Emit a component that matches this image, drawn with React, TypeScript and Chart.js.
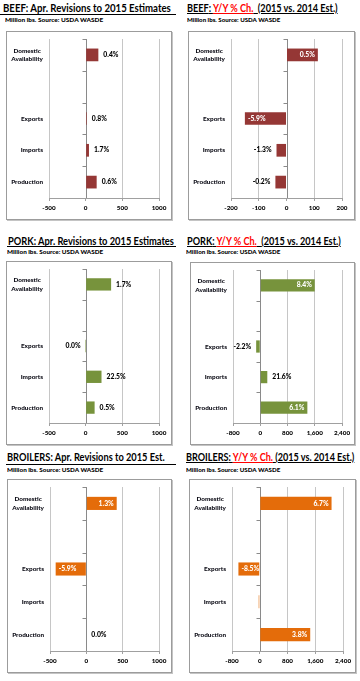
import React, { useEffect, useLayoutEffect, useRef, useState } from 'react';
import { Chart, registerables } from 'chart.js';
Chart.register(...registerables);

// ---------- DATA ----------
const categories: (string | string[])[] = [['Domestic', 'Availability'], '', 'Exports', 'Imports', 'Production'];

const beefAprValues = [173, null, 15, 45, 150];
const beefAprLabels = ['0.4%', null, '0.8%', '1.7%', '0.6%'];
const beefYoyValues = [113, null, -150, -36, -40];
const beefYoyLabels = ['0.5%', null, '-5.9%', '-1.3%', '-0.2%'];

const porkAprValues = [347, null, -0.1, 216, 122];
const porkAprLabels = ['1.7%', null, '0.0%', '22.5%', '0.5%'];
const porkYoyValues = [1600, null, -120, 207, 1383];
const porkYoyLabels = ['8.4%', null, '-2.2%', '21.6%', '6.1%'];

const broilerAprValues = [418, null, -422, 0, 0];
const broilerAprLabels = ['1.3%', null, '-5.9%', null, '0.0%'];
const broilerYoyValues = [2070, null, -615, -30, 1455];
const broilerYoyLabels = ['6.7%', null, '-8.5%', null, '3.8%'];

const aprTicks = [-500, 0, 500, 1000];
const aprTickLabels = ['-500', '0', '500', '1000'];
const beefYoyTicks = [-200, -100, 0, 100, 200];
const beefYoyTickLabels = ['-200', '-100', '0', '100', '200'];
const bigYoyTicks = [-800, 0, 800, 1600, 2400];
const bigYoyTickLabels = ['-800', '0', '800', '1,600', '2,400'];

const subtitleText = 'Million lbs. Source: USDA WASDE';

// ---------- STYLE ----------
const FONT = 'Lato, "Open Sans", sans-serif';
const BEEF = '#953735';
const PORK = '#77933c';
const BROILER = '#e46c0a';

const zeroAxisPlugin = {
  id: 'zeroAxis',
  beforeDatasetsDraw(chart: any) {
    const { ctx, chartArea, scales } = chart;
    const x = scales.x;
    const y = scales.y;
    const x0 = Math.round(x.getPixelForValue(0)) + 0.5;
    ctx.save();
    ctx.strokeStyle = '#8a8a8a';
    ctx.lineWidth = 1;
    ctx.beginPath();
    ctx.moveTo(x0, chartArea.top);
    ctx.lineTo(x0, chartArea.bottom);
    const n = y.ticks.length;
    const band = (chartArea.bottom - chartArea.top) / n;
    for (let i = 0; i < n; i++) {
      const yy = Math.round(chartArea.top + band * i) + 0.5;
      ctx.moveTo(x0 - 4, yy);
      ctx.lineTo(x0, yy);
    }
    ctx.stroke();
    ctx.restore();
  },
};

const catLabelPlugin = {
  id: 'catLabels',
  afterDraw(chart: any) {
    const { ctx, chartArea, scales } = chart;
    const y = scales.y;
    const labels: (string | string[])[] = chart.data.labels;
    ctx.save();
    ctx.font = `900 6.4px ${FONT}`;
    ctx.fillStyle = '#0a0a14';
    ctx.textBaseline = 'middle';
    ctx.textAlign = 'center';
    const lh = 8.3;
    labels.forEach((lab, i) => {
      const lines = Array.isArray(lab) ? lab : [lab];
      if (!lines.join('')) return;
      const yc = y.getPixelForValue(i);
      const maxW = Math.max(...lines.map((l) => ctx.measureText(l).width));
      const right = chartArea.left - 6;
      lines.forEach((l, j) => {
        const yy = yc + (j - (lines.length - 1) / 2) * lh;
        ctx.fillText(l, right - maxW / 2, yy);
      });
    });
    ctx.restore();
  },
};

const labelPlugin = {
  id: 'barLabels',
  afterDatasetsDraw(chart: any, _args: any, opts: any) {
    const { ctx } = chart;
    const meta = chart.getDatasetMeta(0);
    const ds = chart.data.datasets[0];
    const labels: (string | null)[] = opts.labels || [];
    const mode: string = opts.mode || 'outside';
    ctx.save();
    ctx.font = `900 6.8px ${FONT}`;
    ctx.textBaseline = 'middle';
    meta.data.forEach((bar: any, i: number) => {
      const text = labels[i];
      const v = ds.data[i];
      if (!text || v == null) return;
      const { x, base, y } = bar.getProps(['x', 'base', 'y'], true);
      const len = Math.abs(x - base);
      const w = ctx.measureText(text).width;
      const neg = v < 0;
      const inside = mode === 'auto' && len >= w + 3;
      if (inside) {
        ctx.fillStyle = '#ffffff';
        ctx.textAlign = neg ? 'left' : 'right';
        ctx.fillText(text, neg ? x + 3 : x - 3, y);
      } else {
        ctx.fillStyle = '#000000';
        ctx.textAlign = neg ? 'right' : 'left';
        ctx.fillText(text, neg ? x - 5 : x + 5, y);
      }
    });
    ctx.restore();
  },
};

type Box = { x: number; y: number; w: number; h: number };

function BarPanel(props: {
  values: (number | null)[];
  labels: (string | null)[];
  ticks: number[];
  tickLabels: string[];
  color: string;
  mode: 'outside' | 'auto';
  box: Box;
}) {
  const { values, labels, ticks, tickLabels, color, mode, box } = props;
  const ref = useRef<HTMLCanvasElement>(null);
  useEffect(() => {
    const chart = new Chart(ref.current as HTMLCanvasElement, {
      type: 'bar',
      data: {
        labels: categories as any,
        datasets: [
          {
            data: values as any,
            backgroundColor: color,
            barPercentage: 0.4,
            categoryPercentage: 1,
          },
        ],
      },
      options: {
        indexAxis: 'y',
        animation: false,
        responsive: false,
        maintainAspectRatio: false,
        layout: { padding: { top: 7, right: 12, bottom: 0, left: 0 } },
        plugins: {
          legend: { display: false },
          tooltip: { enabled: false },
          barLabels: { labels, mode },
        } as any,
        scales: {
          x: {
            type: 'linear',
            min: ticks[0],
            max: ticks[ticks.length - 1],
            afterBuildTicks: (s: any) => {
              s.ticks = ticks.map((v) => ({ value: v }));
            },
            afterFit: (s: any) => {
              s.height = 21;
            },
            grid: {
              color: (c: any) => (c.tick && c.tick.value === 0 ? 'rgba(0,0,0,0)' : '#c6c6c6'),
              tickLength: 3,
              tickColor: '#a0a0a0',
            },
            border: { display: true, color: '#a0a0a0' },
            ticks: {
              font: { family: FONT, size: 6.3, weight: '900' },
              color: '#000',
              padding: 3,
              maxRotation: 0,
              autoSkip: false,
              callback: (v: any) => {
                const idx = ticks.indexOf(Number(v));
                return idx >= 0 ? tickLabels[idx] : '';
              },
            },
          },
          y: {
            grid: { display: false },
            border: { display: false },
            afterFit: (s: any) => {
              s.width = 42;
            },
            ticks: { display: false },
          },
        },
      } as any,
      plugins: [zeroAxisPlugin, labelPlugin, catLabelPlugin],
    });
    return () => chart.destroy();
  }, []);
  return (
    <div
      style={{
        position: 'absolute',
        left: box.x,
        top: box.y,
        width: box.w,
        height: box.h,
        border: '1px solid #9c9c9c',
        boxShadow: '1px 1px 0 #c4c4c4',
        boxSizing: 'border-box',
        background: '#fff',
      }}
    >
      <canvas ref={ref} width={box.w - 2} height={box.h - 2} style={{ display: 'block' }} />
    </div>
  );
}

function FitText(props: { x: number; y: number; width: number; size: number; weight?: number; children: React.ReactNode }) {
  const { x, y, width, size, weight = 700, children } = props;
  const ref = useRef<HTMLSpanElement>(null);
  const [scale, setScale] = useState(1);
  useLayoutEffect(() => {
    const measure = () => {
      if (ref.current) {
        const w = ref.current.offsetWidth;
        if (w) setScale(width / w);
      }
    };
    measure();
    const f = (document as any).fonts;
    if (f && f.ready) f.ready.then(measure);
  }, [width]);
  return (
    <span
      ref={ref}
      style={{
        position: 'absolute',
        left: x,
        top: y,
        fontSize: size,
        lineHeight: `${size * 1.2}px`,
        fontWeight: weight,
        fontFamily: FONT,
        whiteSpace: 'pre',
        transform: `scaleX(${scale})`,
        transformOrigin: '0 0',
        color: '#000',
      }}
    >
      {children}
    </span>
  );
}

function YoyTitle({ name, gap }: { name: string; gap: string }) {
  return (
    <>
      <span style={{ textDecoration: 'underline' }}>{name}: </span>
      <span style={{ textDecoration: 'underline', color: '#ff0000' }}>Y/Y % Ch.</span>
      <span style={{ textDecoration: 'underline' }}>{gap}(2015 vs. 2014 Est.)</span>
    </>
  );
}

function Rule({ x, y, w }: { x: number; y: number; w: number }) {
  return <div style={{ position: 'absolute', left: x, top: y, width: w, height: 1, background: '#000' }} />;
}

export default function App() {
  const T = 10.5;
  const S = 6;
  return (
    <div style={{ position: 'absolute', left: 0, top: 0, width: 360, height: 681, background: '#fff', overflow: 'hidden' }}>
      {/* Row 1 */}
      <FitText x={3} y={1.5} width={168} size={T}>BEEF: Apr. Revisions to 2015 Estimates</FitText>
      <Rule x={0} y={14} w={176} />
      <FitText x={5} y={16.2} width={98} size={S} weight={900}>{subtitleText}</FitText>
      <BarPanel values={beefAprValues} labels={beefAprLabels} ticks={aprTicks} tickLabels={aprTickLabels} color={BEEF} mode="outside" box={{ x: 6, y: 31, w: 166, h: 189 }} />

      <FitText x={187} y={1.5} width={151} size={T}><YoyTitle name="BEEF" gap="  " /></FitText>
      <FitText x={187} y={15.6} width={93} size={S} weight={900}>{subtitleText}</FitText>
      <BarPanel values={beefYoyValues} labels={beefYoyLabels} ticks={beefYoyTicks} tickLabels={beefYoyTickLabels} color={BEEF} mode="auto" box={{ x: 188, y: 31, w: 167, h: 189 }} />

      {/* Row 2 */}
      <FitText x={8} y={234.5} width={166} size={T}>PORK: Apr. Revisions to 2015 Estimates</FitText>
      <Rule x={7} y={246} w={169} />
      <FitText x={7} y={248.2} width={96} size={S} weight={900}>{subtitleText}</FitText>
      <BarPanel values={porkAprValues} labels={porkAprLabels} ticks={aprTicks} tickLabels={aprTickLabels} color={PORK} mode="outside" box={{ x: 6, y: 261, w: 166, h: 184 }} />

      <FitText x={187} y={234.5} width={154} size={T}><YoyTitle name="PORK" gap="  " /></FitText>
      <FitText x={186} y={248.2} width={94} size={S} weight={900}>{subtitleText}</FitText>
      <BarPanel values={porkYoyValues} labels={porkYoyLabels} ticks={bigYoyTicks} tickLabels={bigYoyTickLabels} color={PORK} mode="auto" box={{ x: 190, y: 262, w: 165, h: 183 }} />

      {/* Row 3 */}
      <FitText x={7} y={450.5} width={158} size={T}>BROILERS: Apr. Revisions to 2015 Est.</FitText>
      <Rule x={6} y={464} w={170} />
      <FitText x={7} y={466.2} width={96} size={S} weight={900}>{subtitleText}</FitText>
      <BarPanel values={broilerAprValues} labels={broilerAprLabels} ticks={aprTicks} tickLabels={aprTickLabels} color={BROILER} mode="auto" box={{ x: 7, y: 479, w: 165, h: 194 }} />

      <FitText x={186} y={450.5} width={168} size={T}><YoyTitle name="BROILERS" gap=" " /></FitText>
      <FitText x={186} y={466.2} width={94} size={S} weight={900}>{subtitleText}</FitText>
      <BarPanel values={broilerYoyValues} labels={broilerYoyLabels} ticks={bigYoyTicks} tickLabels={bigYoyTickLabels} color={BROILER} mode="auto" box={{ x: 189, y: 479, w: 167, h: 194 }} />
    </div>
  );
}
